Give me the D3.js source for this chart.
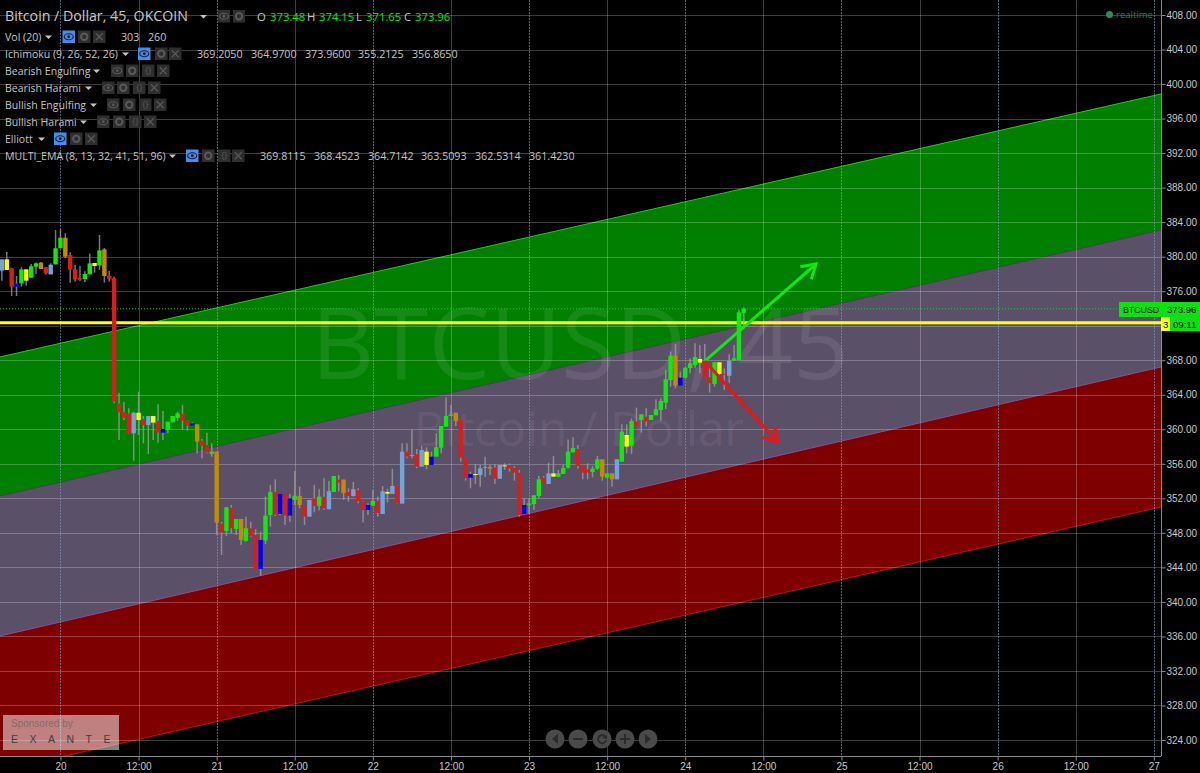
<!DOCTYPE html>
<html><head><meta charset="utf-8">
<script src="https://cdnjs.cloudflare.com/ajax/libs/d3/7.8.5/d3.min.js"></script>
<style>html,body{margin:0;padding:0;background:#000;overflow:hidden}svg{display:block}</style>
</head><body><svg id="c" width="1200" height="773"></svg>
<script>
// ---- data ----
const priceTicks = [324,328,332,336,340,344,348,352,356,360,364,368,372,376,380,384,388,392,396,400,404,408];
const timeTicks = [0,12,24,36,48,60,72,84,96,108,120,132,144,156,168];
const timeLabels = ["20","12:00","21","12:00","22","12:00","23","12:00","24","12:00","25","12:00","26","12:00","27"];
const dayTicks = [0,24,48,72,96,120,144,168];
const firstBarHour = -9, barHours = 0.75;
const kinds = ["l","y","r","b","g","y","g","g","o","r","l","g","g","o","r","r","r","g","g","y","g","o","r","r",
"r","r","r","l","y","r","l","y","r","b","g","g","g","r","r","b","o","r","r","g","o","r","g","r","g","o","g","r","r","b","g","g","r","b","r","b","g","o","r","l","r","g","r","l","g","r","o","r","l","r","r","b","g","r","l","y","l","r","l","r","g","r","l","y","b","g","g","g","g","o","r","r","b","y","l","g","o","r","l","y","r","r","r","b","g","g","g","r","l","y","g","g","g","g","r","r","r","g","g","o","g","o","l","g","y","g","r","g","r","g","g","g","g","g","o","b","g","g","g","y","r","r","g","y","r","l","g","g","g"];
const bodyTop = [379.69,379.69,378.65,376.87,378.53,378.53,378.88,379.23,379.31,378.77,379.07,380.97,382.2,382.2,380.19,378.53,377.53,377.99,379.23,379.27,380.74,380.85,377.8,377.49,
362.97,362,361.85,361.92,361.92,361.19,361.54,361.54,360.96,360.03,360.88,361.54,361.85,361.77,361.07,360.69,360.57,358.69,358.18,357.41,357.41,349.07,350.96,350.92,349.61,349.61,348.53,348.53,347.76,347.18,350,352.74,352.74,352.51,352.51,352,352.31,352.27,351.23,351.81,352,352.2,352.16,352.82,354.59,354.17,354.17,352.74,353.05,352.93,351.62,351.23,351.7,351.7,352.82,352.74,353.43,353.47,357.41,357.41,357.02,357.1,357.6,357.41,356.83,357.91,360.38,361.54,361.69,361.92,361.07,356.75,354.82,354.82,355.47,355.63,355.63,355.55,355.86,355.82,355.86,355.51,354.97,351.23,351.42,352.35,354.2,354.39,354.89,354.89,354.89,355.51,357.41,357.83,357.71,355.74,355.36,355.44,356.52,356.52,354.89,354.89,356.52,359.72,359.34,360.96,360.89,361.73,361.46,361.66,362.31,363.28,365.79,368.53,368.53,365.98,367.14,367.64,368.38,368.15,367.91,366.02,367.76,367.76,366.41,367.91,368.22,373.55,373.96];
const bodyBottom = [378.38,378.46,376.53,376.49,376.91,377.22,377.57,378.84,378.57,378.07,377.95,379.11,380.97,380,378.5,377.34,377.34,377.41,377.95,378.92,379,377.76,377.41,363.2,
361.96,361.31,359.53,359.53,361.07,360.49,360.49,360.77,359.61,359.61,359.92,360.8,361.31,361,360.42,360.42,358.56,358.07,357.33,357.14,349.19,348.03,348.22,348.53,348.45,347.18,347.06,347.64,343.82,343.82,347.1,350.07,350.11,350.19,350,350,351.81,351.23,349.88,349.88,351.12,351.12,350.85,350.73,352.74,353.82,352.62,352.27,352.27,351.66,350.65,350.65,351.15,350.31,350.19,352.54,352.51,351.39,351.39,356.83,356.95,355.67,355.67,355.87,355.87,356.83,357.87,360.3,361.54,360.96,356.71,354.32,354.39,354.7,354.7,355.55,355.44,354.28,354.28,355.74,355.47,354.97,350.07,350.18,351.19,351.34,352.27,353.66,353.66,354.51,354.51,354.82,355.55,357.33,355.74,354.97,354.97,355.05,355.44,354.51,354.39,354.2,354.2,356.25,357.99,358.1,360.5,361.08,360.89,361.08,361.62,362.24,363.09,365.71,365.06,365.06,365.98,367.1,367.45,367.72,366.02,365.33,365.25,366.41,366.33,366.21,367.95,368.03,373.48];
const wickHigh = [379.69,380.54,378.65,377.76,378.77,378.53,379.15,379.31,379.38,378.77,379.23,383.09,383.17,382.71,380.5,379.04,378.96,378.3,380.35,379.27,382.51,381.01,378.34,377.68,
364.24,363.16,362.43,362.04,364.36,361.54,361.54,361.54,362.89,362.12,360.88,361.54,362.04,362.81,361.07,360.8,360.57,358.88,359.61,358.38,357.41,349.26,350.96,351.23,349.61,349.61,349.88,349.3,348.41,348.14,352.2,353.55,354.21,352.51,352.51,352.51,355.17,353.36,351.23,351.81,353.55,353.05,354.32,354.01,354.59,354.71,354.17,353.16,353.9,353.16,351.62,351.42,352.97,352.2,353.43,353.12,355.44,353.47,358.38,358.38,359.92,357.72,358.07,357.91,357.41,359.54,360.38,363.7,362.81,361.92,361.07,356.75,355.09,355.98,355.86,356.83,355.86,355.98,355.86,356.05,356.05,355.74,355.28,352,352,352.35,354.59,354.59,356.13,356.9,355.28,355.86,358.83,359.07,358.18,355.74,356.05,355.74,356.9,356.52,354.89,354.89,356.52,360.57,360.58,361.27,362.51,361.73,362.43,361.66,363.47,363.59,366.87,369,369.88,366.68,367.14,368.22,369.96,369.77,369.88,367.26,367.76,367.76,367.06,368.69,369.77,373.82,374.15];
const wickLow = [377.22,378.46,375.44,375.44,376.53,376.64,377.57,377.99,378.57,377.92,377.95,379.11,380.97,379.85,376.99,377.11,377.22,377.07,377.95,378.15,378.46,376.99,377.11,363.01,
358.76,361.07,359.53,356.36,359.34,358.37,357.13,358.76,358.45,358.76,359.53,360.8,361,359.99,359.84,360.42,357.21,356.64,357.22,356.83,347.76,345.44,347.64,347.95,347.76,346.6,346.98,347.56,343.82,343.04,346.71,348.72,349.96,350.07,348.91,349.3,351.23,350.85,348.91,349.88,350.38,350.58,350.65,350.73,352.74,352.78,351.81,351.62,352.2,351.42,349.19,350.07,351.15,349.88,350.19,351.5,352.51,351.39,351.39,356.64,356.64,355.48,355.67,355.36,355.87,356.83,357.22,360.3,361.54,360.38,356.25,354.05,353.16,353.66,353.35,354.51,354.7,353.66,354.28,355.28,355.09,354.05,349.87,350.18,350.18,350.65,352,353.66,353.66,354.51,354.43,354.82,355.47,357.33,355.47,354.2,354.2,354.43,355.28,354.05,354.32,353.35,354.2,356.25,357.22,357.14,360.5,359.61,360.31,361.08,361.62,361,362.35,364.94,364.75,365.06,365.9,366.48,367.14,366.48,366.02,364.25,364.94,365.91,364.55,365.4,367.95,368.03,371.65];
const channelHours = [-9.29,169.1];
const greenTop = [368.38,398.85];
const greenBottom = [352.27,383.09];
const violetBottom = [336.05,367.22];
const redBottom = [320.43,351];
const lastPrice = 373.96, yellowLevel = 372.35;
const arrowStart = [99,367.9], greenArrowEnd = [116.1,379.15], redArrowEnd = [110.2,358.53];
const legendNames = ["Vol (20)","Ichimoku (9, 26, 52, 26)","Bearish Engulfing","Bearish Harami","Bullish Engulfing","Bullish Harami","Elliott","MULTI_EMA (8, 13, 32, 41, 51, 96)"];
const legendValues = [["303","260"],["369.2050","364.9700","373.9600","355.2125","356.8650"],[],[],[],[],[],["369.8115","368.4523","364.7142","363.5093","362.5314","361.4230"]];
const ohlcNames = ["O","H","L","C"];
const ohlcValues = ["373.48","374.15","371.65","373.96"];

// ---- layout ----
const svg = d3.select("#c");
const W = 1161, H = 756;
const x = d3.scaleLinear().domain([-9.29,169.1]).range([0,W]);
const y = d3.scaleLinear().domain([324,408]).range([740,15]);
const barX = i => x(firstBarHour + i*barHours);
const colors = {g:"#0fea0f",r:"#d4201c",b:"#0000f0",o:"#c48a05",y:"#ffff00",l:"#6fa5dc"};
svg.append("rect").attr("width",1200).attr("height",773).attr("fill","#000");
svg.append("clipPath").attr("id","plot").append("rect").attr("width",W).attr("height",H);
const plot = svg.append("g").attr("clip-path","url(#plot)");

function band(top,bottom,fill){
  const area = d3.area().x((d,i)=>x(channelHours[i])).y1((d,i)=>y(top[i])).y0((d,i)=>y(bottom[i]));
  plot.append("path").attr("d",area(channelHours)).attr("fill",fill);
}
function edge(vals,color){
  const line = d3.line().x((d,i)=>x(channelHours[i])).y((d,i)=>y(vals[i]));
  plot.append("path").attr("d",line(channelHours)).attr("fill","none").attr("stroke",color).attr("stroke-width",1);
}
band(greenTop,greenBottom,"#007f00");
band(greenBottom,violetBottom,"#5a5068");
band(violetBottom,redBottom,"#7f0000");
edge(greenTop,"#2fc02f"); edge(greenBottom,"#3d4d44"); edge(violetBottom,"#8a559a"); edge(redBottom,"#c01010");

// grid
plot.append("g").selectAll("line").data(priceTicks).join("line")
  .attr("x1",0).attr("x2",W).attr("y1",d=>Math.round(y(d))+.5).attr("y2",d=>Math.round(y(d))+.5)
  .attr("stroke","#fff").attr("stroke-opacity",.24);
plot.append("g").selectAll("line").data(timeTicks).join("line")
  .attr("x1",d=>Math.round(x(d))+.5).attr("x2",d=>Math.round(x(d))+.5).attr("y1",0).attr("y2",H)
  .attr("stroke",d=>dayTicks.includes(d)?"#7f9fc8":"#fff")
  .attr("stroke-opacity",d=>dayTicks.includes(d)?.6:.24)
  .attr("stroke-dasharray",d=>dayTicks.includes(d)?"2,1":null);

// watermarks
plot.append("text").attr("x",580).attr("y",379).attr("text-anchor","middle")
  .attr("font-family","'Open Sans',sans-serif").attr("font-size",98).attr("fill","#fff").attr("fill-opacity",.085).text("BTCUSD, 45");
plot.append("text").attr("x",579).attr("y",446).attr("text-anchor","middle")
  .attr("font-family","'Open Sans',sans-serif").attr("font-size",48).attr("fill","#fff").attr("fill-opacity",.085).text("Bitcoin / Dollar");

// levels
plot.append("line").attr("x1",0).attr("x2",W).attr("y1",y(lastPrice)).attr("y2",y(lastPrice))
  .attr("stroke","#19d019").attr("stroke-dasharray","1,2").attr("stroke-width",1);
plot.append("line").attr("x1",0).attr("x2",W).attr("y1",y(yellowLevel)).attr("y2",y(yellowLevel))
  .attr("stroke","#ffff14").attr("stroke-width",3);

// candles
const idx = d3.range(bodyTop.length);
plot.append("g").selectAll("line").data(idx).join("line")
  .attr("x1",barX).attr("x2",barX).attr("y1",i=>y(wickHigh[i])).attr("y2",i=>y(wickLow[i]))
  .attr("stroke","#a0a0a0").attr("stroke-opacity",.75).attr("stroke-width",1.5);
plot.append("g").selectAll("rect").data(idx).join("rect")
  .attr("x",i=>barX(i)-2.2).attr("width",4.4)
  .attr("y",i=>y(bodyTop[i])).attr("height",i=>Math.max(1,y(bodyBottom[i])-y(bodyTop[i])))
  .attr("fill",i=>colors[kinds[i]]);

// arrows
function arrow(end,color){
  const x0=x(arrowStart[0]),y0=y(arrowStart[1]),x1=x(end[0]),y1=y(end[1]);
  const a=Math.atan2(y1-y0,x1-x0), L=16, s=.55;
  const p=d3.path();
  p.moveTo(x0,y0);p.lineTo(x1,y1);
  p.moveTo(x1-L*Math.cos(a-s),y1-L*Math.sin(a-s));p.lineTo(x1,y1);p.lineTo(x1-L*Math.cos(a+s),y1-L*Math.sin(a+s));
  plot.append("path").attr("d",p.toString()).attr("fill","none").attr("stroke",color).attr("stroke-width",3);
}
arrow(greenArrowEnd,"#14e614");
arrow(redArrowEnd,"#ee1414");

// axes
const axisFont = "'Liberation Sans',Arial,sans-serif";
const rAxis = svg.append("g").attr("transform",`translate(${W}.5,0)`)
  .call(d3.axisRight(y).tickValues(priceTicks).tickFormat(d=>d===372?"":d3.format(".2f")(d)).tickSize(4).tickPadding(1));
const bAxis = svg.append("g").attr("transform",`translate(0,${H}.5)`)
  .call(d3.axisBottom(x).tickValues(timeTicks).tickFormat((d,i)=>timeLabels[i]).tickSize(4).tickPadding(2));
[rAxis,bAxis].forEach(a=>{
  a.selectAll("path,line").attr("stroke","#8a8a8a");
  a.selectAll("text").attr("fill","#c8c8c8").attr("font-family",axisFont).attr("font-size",10);
});
rAxis.select("path").attr("d",`M0,0V${H}`);
bAxis.select("path").attr("d",`M0,0H${W}`);

// price tags
function tag(xp,yp,w,h,fill,t,tx,size){
  svg.append("rect").attr("x",xp).attr("y",yp).attr("width",w).attr("height",h).attr("fill",fill);
  if(t) svg.append("text").attr("x",tx).attr("y",yp+h/2+3.5).attr("font-family",axisFont).attr("font-size",size).attr("fill","#000").text(t);
}
tag(1119,302,42,15,"#0fe00f","BTCUSD",1123,8.8);
tag(1161,302,39,15,"#0fe00f","373.96",1167,9.6);
tag(1161,317,10,14,"#ffff14","3",1163,9.6);
tag(1170,317,30,14,"#0fe00f","09:11",1173,9.6);

// header legend
const uiFont = "'Open Sans',sans-serif", uiColor="#c4c4c4";
function label(t,xp,yp,size,color){
  return svg.append("text").attr("x",xp).attr("y",yp).attr("font-family",uiFont).attr("font-size",size).attr("fill",color||uiColor).text(t);
}
function caret(xp,yp){
  svg.append("path").attr("d",`M${xp},${yp}h7l-3.5,3.5z`).attr("fill","#c4c4c4");
}
function icon(xp,yp,w,on,type){
  svg.append("rect").attr("x",xp).attr("y",yp).attr("width",w).attr("height",12.5)
    .attr("fill",on?"#4a8be6":"#2e2e2e");
  const cx=xp+w/2, cy=yp+6.25, col=on?"#10243f":"#5a5a5a";
  if(type==="eye"){
    svg.append("ellipse").attr("cx",cx).attr("cy",cy).attr("rx",4.5).attr("ry",3).attr("fill","none").attr("stroke",col).attr("stroke-width",1.2);
    svg.append("circle").attr("cx",cx).attr("cy",cy).attr("r",1.4).attr("fill",col);
  } else if(type==="gear"){
    svg.append("circle").attr("cx",cx).attr("cy",cy).attr("r",3.2).attr("fill","none").attr("stroke",col).attr("stroke-width",2);
  } else if(type==="src"){
    svg.append("text").attr("x",cx).attr("y",cy+3).attr("text-anchor","middle").attr("font-family",uiFont).attr("font-size",9).attr("fill",col).text("{}");
  } else {
    svg.append("path").attr("d",`M${cx-3.5},${cy-3.5}l7,7m0,-7l-7,7`).attr("stroke",col).attr("stroke-width",1.2);
  }
}
label("Bitcoin / Dollar, 45, OKCOIN",5,21,14.2,"#c8c8c8");
caret(200,15);
icon(218,10,12,false,"eye"); icon(233,10,12,false,"gear");
const ohlcLetterX=[257,307,356,404], ohlcValueX=[270,319,366,415];
ohlcNames.forEach((n,i)=>{label(n,ohlcLetterX[i],21,11.3);label(ohlcValues[i],ohlcValueX[i],21,11.3,"#10e010");});

const rowY=[41,58,75,92,109,126,143,160];
const caretX=[45,122,93,85,90,80,38,169];
const iconX=[[62.5,78,93],[138,155,169],[111,126,142,157],[102,117,133,148],[107,123,139,154],[97,113,129,144],[54,70,85],[186,202,218,232]];
const valueX=[[121,148],[197,251,305,358,412],[],[],[],[],[],[260,314,368,421,475,529]];
legendNames.forEach((n,r)=>{
  label(n,5,rowY[r],10.55);
  caret(caretX[r],rowY[r]-5.5);
  const types = iconX[r].length===3?["eye","gear","x"]:["eye","gear","src","x"];
  const blue = r<2||r>=6;
  iconX[r].forEach((ix,j)=>icon(ix,rowY[r]-10.5,12.5,blue&&j===0,types[j]));
  legendValues[r].forEach((v,j)=>label(v,valueX[r][j],rowY[r],10.7));
});

// realtime
svg.append("circle").attr("cx",1109.5).attr("cy",14.5).attr("r",3.5).attr("fill","#2e8b57");
svg.append("text").attr("x",1116).attr("y",18).attr("font-family",uiFont).attr("font-size",9.5).attr("fill","#2e7d55").text("realtime");

// sponsor box
svg.append("rect").attr("x",3).attr("y",715).attr("width",116).attr("height",35).attr("fill","#fff").attr("fill-opacity",.5);
svg.append("text").attr("x",11).attr("y",727).attr("font-family",axisFont).attr("font-size",10).attr("fill","#555").attr("fill-opacity",.55).text("Sponsored by");
svg.append("text").attr("x",11).attr("y",743).attr("font-family",axisFont).attr("font-size",10.5).attr("letter-spacing","11.5px").attr("fill","#3e3e3e").text("EXANTE");

// zoom buttons
const buttonX=[555,578,602,625,648];
const buttonGlyph=["M3,-5L-3,0L3,5Z","M-5,-1H5V1H-5Z","M4,-3A5,5 0 1 0 5,1L3,1A3,3 0 1 1 2,-2L0,-1L5,0L5,-5Z","M-5,-1H-1V-5H1V-1H5V1H1V5H-1V1H-5Z","M-3,-5L3,0L-3,5Z"];
buttonX.forEach((bx,i)=>{
  svg.append("circle").attr("cx",bx).attr("cy",739).attr("r",9.5).attr("fill","#4a4a4a");
  svg.append("path").attr("transform",`translate(${bx},739)`).attr("d",buttonGlyph[i]).attr("fill","#2b2b2b");
});
</script></body></html>
